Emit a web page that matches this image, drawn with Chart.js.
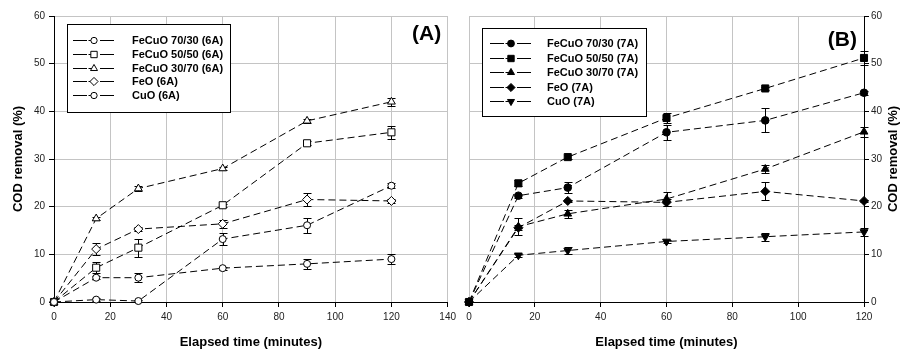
<!DOCTYPE html>
<html>
<head>
<meta charset="utf-8">
<script src="https://cdn.jsdelivr.net/npm/chart.js@4/dist/chart.umd.min.js"></script>
<style>
  body { margin: 0; background: #fff; }
  #wrap { position: relative; width: 904px; height: 350px; }
  #chartA { position: absolute; left: 0; top: 0; }
  #chartB { position: absolute; left: 460px; top: 0; }
</style>
</head>
<body>
<div id="wrap">
  <canvas id="chartA" width="460" height="350"></canvas>
  <canvas id="chartB" width="444" height="350"></canvas>
</div>
<script>
const times = [0, 15, 30, 60, 90, 120];

// panel A (6A), open markers
const fecuo7030_6A = [0, 0.5, 0.2, 13.2, 16.1, 24.4];
const fecuo5050_6A = [0, 7.2, 11.4, 20.3, 33.3, 35.6];
const fecuo3070_6A = [0, 17.5, 23.8, 28.0, 38.0, 42.0];
const feo_6A = [0, 11.1, 15.3, 16.4, 21.5, 21.2];
const cuo_6A = [0, 5.1, 5.1, 7.1, 8.0, 9.0];
const err7030_6A = [0, 0.3, 0.3, 1.2, 1.6, 0.5];
const err5050_6A = [0, 1.2, 1.9, 0.3, 0.4, 1.4];
const err3070_6A = [0, 0.4, 0.5, 0.3, 0.4, 0.9];
const errFeo_6A = [0, 1.2, 0.4, 0.8, 1.4, 0.5];
const errCuo_6A = [0, 0.3, 0.9, 0.3, 1.0, 1.0];

// panel B (7A), filled markers
const fecuo7030_7A = [0, 22.3, 24.0, 35.6, 38.1, 43.9];
const fecuo5050_7A = [0, 24.9, 30.4, 38.6, 44.8, 51.2];
const fecuo3070_7A = [0, 15.8, 18.5, 21.6, 27.9, 35.7];
const feo_7A = [0, 15.6, 21.2, 20.9, 23.2, 21.2];
const cuo_7A = [0, 9.8, 10.8, 12.7, 13.7, 14.7];
const err7030_7A = [0, 0.4, 1.1, 1.6, 2.5, 0.4];
const err5050_7A = [0, 0.6, 0.5, 1.0, 0.3, 1.5];
const err3070_7A = [0, 1.8, 0.9, 1.5, 0.8, 1.0];
const errFeo_7A = [0, 0.5, 0.3, 0.8, 1.9, 0.3];
const errCuo_7A = [0, 0.3, 0.8, 0.3, 0.8, 0.8];

const FONT = "'Liberation Sans', Arial, sans-serif";
const Y_TITLE = 'COD removal (%)';

function makeSet(label, values, errors, style, filled, radius, rotation) {
    return {
        label: label,
        data: times.map((t, i) => ({ x: t, y: values[i] })),
        errors: errors,
        borderColor: '#000',
        borderWidth: 1,
        borderDash: [7, 4],
        pointStyle: style,
        pointRadius: radius,
        pointHoverRadius: radius,
        pointRotation: rotation || 0,
        pointBackgroundColor: filled ? '#000' : '#fff',
        pointBorderColor: '#000',
        pointBorderWidth: 1,
        tension: 0,
        fill: false,
        clip: false
    };
}

// vertical error bars, drawn under the markers
const errorBars = {
    id: 'errorBars',
    beforeDatasetsDraw(chart) {
        const ctx = chart.ctx, xs = chart.scales.x, ys = chart.scales.y;
        ctx.save();
        ctx.strokeStyle = '#000';
        ctx.lineWidth = 1;
        ctx.setLineDash([]);
        chart.data.datasets.forEach(ds => {
            ds.data.forEach((p, i) => {
                const e = ds.errors[i];
                if (!e) return;
                const x = Math.round(xs.getPixelForValue(p.x)) + 0.5;
                const y1 = Math.round(ys.getPixelForValue(p.y + e)) + 0.5;
                const y2 = Math.round(ys.getPixelForValue(p.y - e)) + 0.5;
                ctx.beginPath();
                ctx.moveTo(x, y1); ctx.lineTo(x, y2);
                ctx.moveTo(x - 4, y1); ctx.lineTo(x + 4, y1);
                ctx.moveTo(x - 4, y2); ctx.lineTo(x + 4, y2);
                ctx.stroke();
            });
        });
        ctx.restore();
    }
};

// boxed legend + panel letter (+ right-hand axis title reading upwards)
const boxLegend = {
    id: 'boxLegend',
    afterDraw(chart, args, opts) {
        const ctx = chart.ctx;
        ctx.save();
        const [bx, by, bw, bh] = opts.box;
        ctx.fillStyle = '#fff';
        ctx.fillRect(bx, by, bw, bh);
        ctx.strokeStyle = '#000';
        ctx.lineWidth = 1;
        ctx.strokeRect(Math.round(bx) + 0.5, Math.round(by) + 0.5, Math.round(bw), Math.round(bh));

        chart.data.datasets.forEach((ds, i) => {
            const y = Math.round(opts.rowY + i * opts.rowStep) + 0.5;
            const mx = opts.markX;
            ctx.strokeStyle = '#000';
            ctx.lineWidth = 1;
            ctx.setLineDash([]);
            ctx.beginPath();
            ctx.moveTo(mx - 21, y); ctx.lineTo(mx - 7, y);
            ctx.moveTo(mx - 5.5, y); ctx.lineTo(mx - 2, y);
            ctx.moveTo(mx + 6, y); ctx.lineTo(mx + 20, y);
            ctx.stroke();
            ctx.fillStyle = ds.pointBackgroundColor;
            Chart.helpers.drawPoint(ctx, {
                pointStyle: ds.pointStyle,
                rotation: ds.pointRotation,
                radius: ds.pointRadius * 0.9,
                borderWidth: 1
            }, mx, y);
            ctx.fillStyle = '#000';
            ctx.font = 'bold 11px ' + FONT;
            ctx.textAlign = 'left';
            ctx.textBaseline = 'middle';
            ctx.fillText(ds.label, opts.textX, y);
        });

        ctx.font = 'bold 21px ' + FONT;
        ctx.textAlign = opts.panelAlign;
        ctx.textBaseline = 'middle';
        ctx.fillStyle = '#000';
        ctx.fillText(opts.panel, opts.panelX, opts.panelY);

        if (opts.sideTitleX) {
            const area = chart.chartArea;
            ctx.translate(opts.sideTitleX, (area.top + area.bottom) / 2);
            ctx.rotate(-Math.PI / 2);
            ctx.font = 'bold 13px ' + FONT;
            ctx.textAlign = 'center';
            ctx.textBaseline = 'middle';
            ctx.fillText(Y_TITLE, 0, 0);
        }
        ctx.restore();
    }
};

function makeScales(xMax, yPos, yWidth, yTitle, yTickPad) {
    const grid = { color: '#c4c4c4', tickColor: '#000', tickLength: 5, lineWidth: 1 };
    const border = { color: '#000', width: 1 };
    return {
        x: {
            type: 'linear', min: 0, max: xMax,
            ticks: { stepSize: 20, color: '#222', padding: 4, font: { family: FONT, size: 10 } },
            grid: grid, border: border,
            title: { display: true, text: 'Elapsed time (minutes)', color: '#000',
                     padding: { top: 0, bottom: 0 }, font: { family: FONT, size: 13, weight: 'bold' } },
            afterFit: s => { s.height = 48; }
        },
        y: {
            type: 'linear', position: yPos, min: 0, max: 60,
            ticks: { stepSize: 10, color: '#222', padding: yTickPad, font: { family: FONT, size: 10 } },
            grid: grid, border: border,
            title: { display: yTitle, text: Y_TITLE, color: '#000',
                     padding: { top: 11, bottom: 0 }, font: { family: FONT, size: 13, weight: 'bold' } },
            afterFit: s => { s.width = yWidth; }
        }
    };
}

function makeChart(id, sets, scales, padding, legendOpts) {
    return new Chart(document.getElementById(id).getContext('2d'), {
        type: 'line',
        data: { datasets: sets },
        options: {
            responsive: false,
            animation: false,
            events: [],
            layout: { padding: padding },
            scales: scales,
            plugins: {
                legend: { display: false },
                tooltip: { enabled: false },
                boxLegend: legendOpts
            }
        },
        plugins: [errorBars, boxLegend]
    });
}

makeChart('chartA', [
    makeSet('FeCuO 70/30 (6A)', fecuo7030_6A, err7030_6A, 'circle', false, 3.5),
    makeSet('FeCuO 50/50 (6A)', fecuo5050_6A, err5050_6A, 'rect', false, 5),
    makeSet('FeCuO 30/70 (6A)', fecuo3070_6A, err3070_6A, 'triangle', false, 4.5),
    makeSet('FeO (6A)', feo_6A, errFeo_6A, 'rectRot', false, 4.5),
    makeSet('CuO (6A)', cuo_6A, errCuo_6A, 'circle', false, 3.5)
], makeScales(140, 'left', 54, true, 4), { top: 16, right: 12, left: 0, bottom: 0 }, {
    box: [67, 24, 163, 88], rowY: 40, rowStep: 13.75, markX: 94, textX: 132,
    panel: '(A)', panelX: 412, panelY: 34, panelAlign: 'left'
});

makeChart('chartB', [
    makeSet('FeCuO 70/30 (7A)', fecuo7030_7A, err7030_7A, 'circle', true, 3.8),
    makeSet('FeCuO 50/50 (7A)', fecuo5050_7A, err5050_7A, 'rect', true, 5),
    makeSet('FeCuO 30/70 (7A)', fecuo3070_7A, err3070_7A, 'triangle', true, 4.5),
    makeSet('FeO (7A)', feo_7A, errFeo_7A, 'rectRot', true, 4.5),
    makeSet('CuO (7A)', cuo_7A, errCuo_7A, 'triangle', true, 4.5, 180)
], makeScales(120, 'right', 40, false, 2), { top: 16, right: 0, left: 9, bottom: 0 }, {
    box: [22, 28, 164, 88], rowY: 43.3, rowStep: 14.4, markX: 51, textX: 87,
    panel: '(B)', panelX: 397, panelY: 40, panelAlign: 'right',
    sideTitleX: 433
});
</script>
</body>
</html>
